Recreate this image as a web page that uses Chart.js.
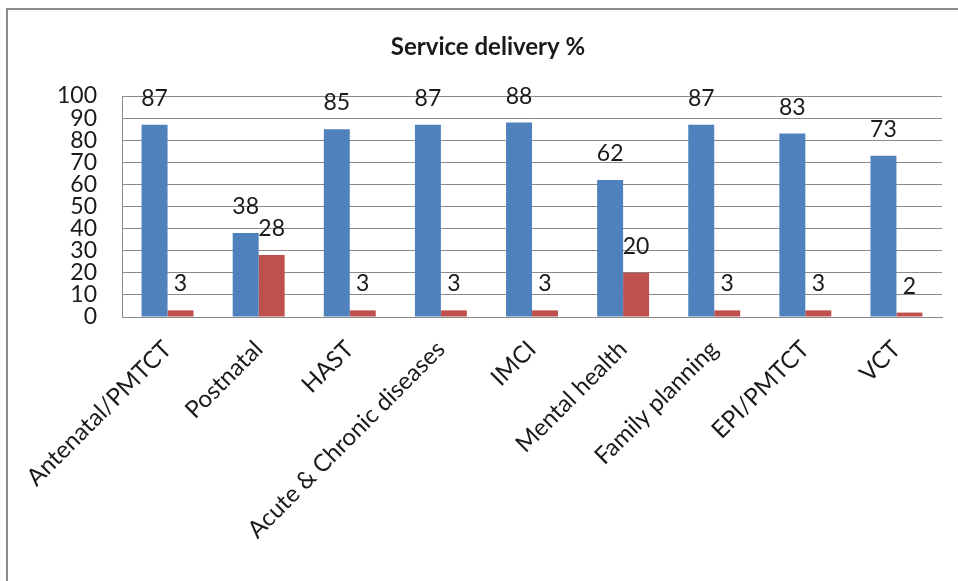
<!DOCTYPE html>
<html>
<head>
<meta charset="utf-8">
<script src="https://cdn.jsdelivr.net/npm/chart.js@4/dist/chart.umd.min.js"></script>
<style>
  html, body { margin: 0; padding: 0; background: #fff; }
  #wrap { position: relative; width: 958px; height: 581px; overflow: hidden; }
  #frame {
    position: absolute; left: 6px; top: 8px; width: 1000px; height: 600px;
    border-top: 2px solid #8c8c8c; border-left: 2px solid #8c8c8c;
  }
  canvas { position: absolute; left: 0; top: 0; }
</style>
</head>
<body>
<div id="wrap">
  <div id="frame"></div>
  <canvas id="chart" width="958" height="581"></canvas>
</div>
<script>
const categories = [
  "Antenatal/PMTCT",
  "Postnatal",
  "HAST",
  "Acute & Chronic diseases",
  "IMCI",
  "Mental health",
  "Family planning",
  "EPI/PMTCT",
  "VCT",
];
const seriesA = [87, 38, 85, 87, 88, 62, 87, 83, 73];
const seriesB = [3, 28, 3, 3, 3, 20, 3, 3, 2];

const FONT = "Lato, 'Open Sans', sans-serif";
const TEXT_COLOR = "#1a1a1a";
const GRID_COLOR = "#8a8a8a";

// Draw value labels above each bar
const barLabels = {
  id: "barLabels",
  afterDatasetsDraw(chart) {
    const ctx = chart.ctx;
    ctx.save();
    ctx.font = "23px " + FONT;
    ctx.fillStyle = TEXT_COLOR;
    ctx.textAlign = "center";
    ctx.textBaseline = "alphabetic";
    chart.data.datasets.forEach((ds, i) => {
      const meta = chart.getDatasetMeta(i);
      meta.data.forEach((bar, j) => {
        ctx.fillText(String(ds.data[j]), bar.x, bar.y - 19);
      });
    });
    ctx.restore();
  },
};

new Chart(document.getElementById("chart").getContext("2d"), {
  type: "bar",
  data: {
    labels: categories,
    datasets: [
      {
        label: "Series 1",
        data: seriesA,
        backgroundColor: "#4f81bd",
        barPercentage: 1.0,
        categoryPercentage: 0.57,
      },
      {
        label: "Series 2",
        data: seriesB,
        backgroundColor: "#c0504d",
        barPercentage: 1.0,
        categoryPercentage: 0.57,
      },
    ],
  },
  options: {
    responsive: false,
    animation: false,
    layout: { padding: { left: 34, right: 16, top: 0, bottom: 0 } },
    plugins: {
      legend: { display: false },
      tooltip: { enabled: false },
      title: {
        display: true,
        text: "Service delivery %",
        color: TEXT_COLOR,
        font: { family: FONT, size: 24, weight: "bold", lineHeight: 1.2 },
        padding: { top: 32.6, bottom: 34.6 },
      },
    },
    scales: {
      x: {
        grid: { display: false, drawTicks: false },
        border: { display: true, color: GRID_COLOR, width: 1 },
        ticks: {
          color: TEXT_COLOR,
          font: { family: FONT, size: 24 },
          minRotation: 45,
          maxRotation: 45,
          autoSkip: false,
          padding: 18,
        },
        afterFit(scale) {
          scale.height = 264;
        },
      },
      y: {
        min: 0,
        max: 100,
        grid: { color: GRID_COLOR, lineWidth: 1, drawTicks: false },
        border: { display: true, color: GRID_COLOR, width: 1 },
        ticks: {
          stepSize: 10,
          autoSkip: false,
          color: TEXT_COLOR,
          font: { family: FONT, size: 23, lineHeight: 1 },
          padding: 25,
        },
        afterFit(scale) {
          scale.width = 88;
        },
      },
    },
  },
  plugins: [barLabels],
});
</script>
</body>
</html>
